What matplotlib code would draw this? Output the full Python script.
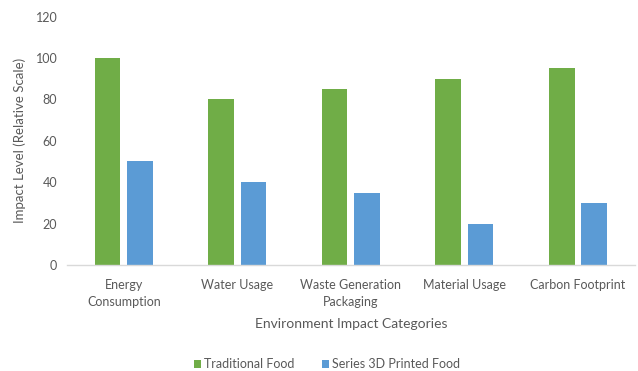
import matplotlib
matplotlib.use("Agg")
import matplotlib.pyplot as plt
import numpy as np

categories = ["Energy\nConsumption", "Water Usage", "Waste Generation\nPackaging",
              "Material Usage", "Carbon Footprint"]
traditional = [100, 80, 85, 90, 95]
printed_3d = [50, 40, 35, 20, 30]
y_ticks = [0, 20, 40, 60, 80, 100, 120]

plt.rcParams['font.family'] = ['Lato', 'DejaVu Sans']
text_color = "#595959"

fig = plt.figure(figsize=(6.38, 3.71), dpi=100)
ax = fig.add_axes([0.105, 0.286, 0.89, 0.669])

x = np.arange(len(categories))
w = 0.225
off = 0.143
ax.bar(x - off, traditional, w, color="#70AD47", label="Traditional Food")
ax.bar(x + off, printed_3d, w, color="#5B9BD5", label="Series 3D Printed Food")

ax.set_xlim(-0.5, len(categories) - 0.5)
ax.set_ylim(0, 120)
ax.set_yticks(y_ticks)
ax.set_xticks(x)
ax.set_xticklabels(categories, fontsize=9, color=text_color, linespacing=1.45)
ax.tick_params(axis='y', labelsize=9, colors=text_color, length=0, pad=7)
ax.tick_params(axis='x', length=0, pad=10.5)

for s in ["top", "right", "left"]:
    ax.spines[s].set_visible(False)
ax.spines["bottom"].set_color("#D9D9D9")
ax.spines["bottom"].set_linewidth(1.0)

ax.set_ylabel("Impact Level (Relative Scale)", fontsize=9.5, color=text_color, labelpad=7)
ax.set_xlabel("Environment Impact Categories", fontsize=10, color=text_color, labelpad=7)

leg = fig.legend(loc="center", ncol=2, frameon=False,
                 fontsize=9, handlelength=0.6, handleheight=0.6, handletextpad=0.2,
                 columnspacing=2.2, labelcolor=text_color)
leg.set_bbox_to_anchor((0.512, 1 - 364 / 371), transform=fig.transFigure)

fig.savefig("out.png", dpi=100, facecolor="white")
